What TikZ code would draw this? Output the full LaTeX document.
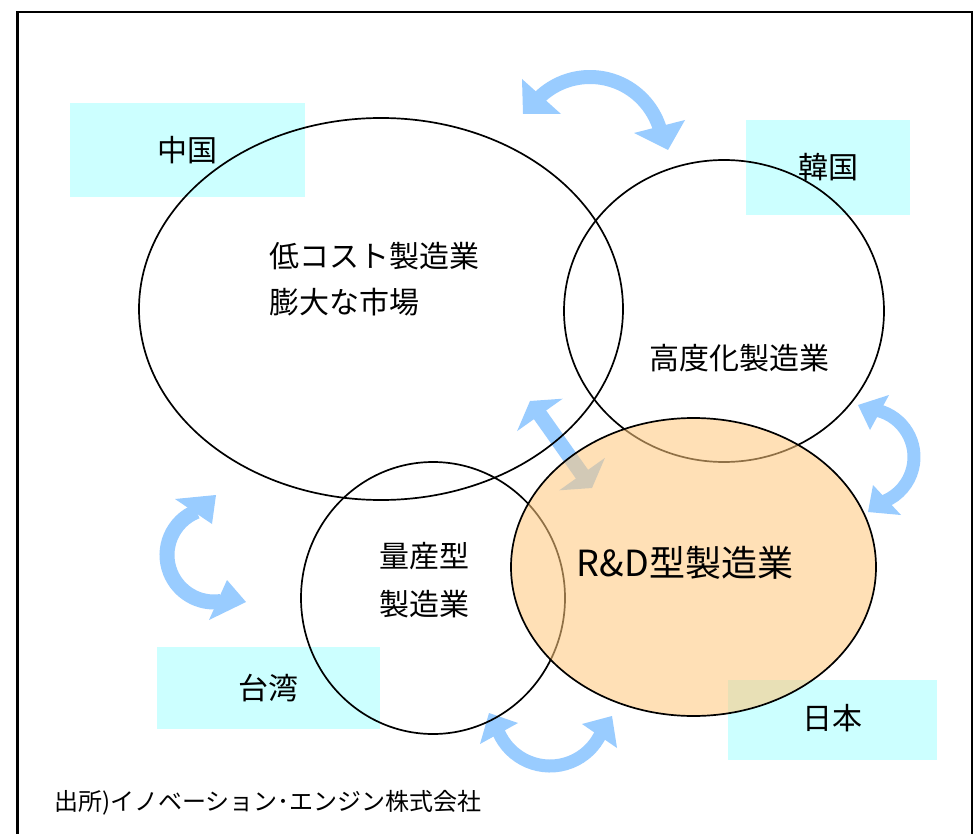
\documentclass[tikz,border=0pt]{standalone}
\usepackage{fontspec}
\setmainfont{Noto Sans CJK JP}
\definecolor{boxcyan}{RGB}{204,255,255}
\definecolor{arrowblue}{RGB}{153,204,255}
\definecolor{jpfill}{RGB}{255,200,125}
\tikzset{
  regionbox/.style={fill=boxcyan, draw=none},
  outline/.style={draw=black, line width=1.7pt},
  shaft/.style={draw=arrowblue, line width=14pt},
  headtri/.style={fill=arrowblue, draw=none},
  txt/.style={inner sep=0pt, font=\fontsize{30}{36}\selectfont},
  bigtxt/.style={inner sep=0pt, font=\fontsize{36}{42}\selectfont},
  foottxt/.style={inner sep=0pt, font=\fontsize{24}{28}\selectfont},
}
\begin{document}
\begin{tikzpicture}[x=1pt,y=-1pt]
\useasboundingbox (0,0) rectangle (976,834);
\fill[white] (0,0) rectangle (976,834);
% frame
\draw[line width=2.5pt] (17.5,834) -- (17.5,12) -- (972,12) -- (972,834);
% label boxes
\fill[regionbox] (70,103) rectangle (305,197);
\fill[regionbox] (746,120) rectangle (910,215);
\fill[regionbox] (157,647) rectangle (380,729);
\fill[regionbox] (728,680) rectangle (937,760);
% curved arrows
% top (China - Korea)
\draw[shaft] (590,150) ++(-134:73) arc[start angle=-134, end angle=-17, radius=73];
\fill[headtri] (522,79) -- (523,114) -- (561,114) -- cycle;
\fill[headtri] (685,120) -- (668,150) -- (634,133) -- cycle;
% right (Korea - Japan)
\draw[shaft, line width=13pt] (866,457) ++(-76:48) arc[start angle=-76, end angle=67, radius=48];
\fill[headtri] (858,405) -- (889,395) -- (870,430) -- cycle;
\fill[headtri] (873,485) -- (868,512) -- (901,515) -- cycle;
% left (China - Taiwan)
\draw[shaft, line width=15pt] (214,555) ++(248:47) arc[start angle=248, end angle=82, radius=47];
\fill[headtri] (175,499) -- (216,495) -- (212,524) -- cycle;
\fill[headtri] (227,580) -- (246,602) -- (209,620) -- cycle;
% bottom (Taiwan - Japan)
\draw[shaft, line width=13pt] (550,710) ++(158:56) arc[start angle=158, end angle=25, radius=56];
\fill[headtri] (489,713) -- (518,723) -- (480,744) -- cycle;
\fill[headtri] (612,716) -- (582,724) -- (617,748) -- cycle;
% diagonal straight arrow (China - Japan)
\draw[shaft, line width=15pt] (538,412) -- (584,477);
\fill[headtri] (530,401) -- (562.7,398.7) -- (517.1,431.1) -- cycle;
\fill[headtri] (592,488) -- (604.9,457.9) -- (559.3,490.3) -- cycle;
% region outlines
\draw[outline] (381,309) ellipse [x radius=242, y radius=191];
\draw[outline] (724,311) ellipse [x radius=160, y radius=151];
\draw[outline] (433,598) ellipse [x radius=132, y radius=136];
\fill[jpfill, fill opacity=0.56] (693.5,567) ellipse [x radius=182.5, y radius=149];
\draw[outline] (693.5,567) ellipse [x radius=182.5, y radius=149];
% texts
\node[txt] (cn) at (187,150) {中国};
\node[txt] (kr) at (828,167) {韓国};
\node[txt, anchor=west] (cnA) at (269,256) {低コスト製造業};
\node[txt, anchor=west] (cnB) at (269,302) {膨大な市場};
\node[txt] (krA) at (739,358) {高度化製造業};
\node[txt] (twA) at (424,556) {量産型};
\node[txt] (twB) at (424,604) {製造業};
\node[bigtxt] (jpA) at (685,563) {R\&D型製造業};
\node[txt] (tw) at (268,688) {台湾};
\node[txt] (jp) at (832,718) {日本};
\node[foottxt, anchor=west] (src) at (54,803) {出所)イノベーション･エンジン株式会社};
\end{tikzpicture}
\end{document}
